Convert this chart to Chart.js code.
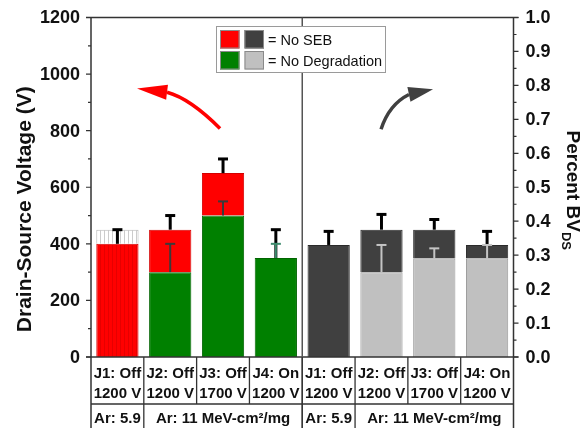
<!DOCTYPE html>
<html><head><meta charset="utf-8">
<script src="https://cdn.jsdelivr.net/npm/chart.js@4.4.0/dist/chart.umd.min.js"></script>
<style>html,body{margin:0;padding:0;background:#fff;}#wrap{width:585px;height:428px;position:relative;}</style>
</head><body><div id="wrap"><canvas id="c" width="585" height="428"></canvas></div>
<script>
// ---------- data ----------
const categories = ['J1: Off','J2: Off','J3: Off','J4: On','J1: Off','J2: Off','J3: Off','J4: On'];
const ratings = ['1200 V','1200 V','1700 V','1200 V','1200 V','1200 V','1700 V','1200 V'];
const ionGroups = ['Ar: 5.9','Ar: 11 MeV-cm²/mg','Ar: 5.9','Ar: 11 MeV-cm²/mg'];
const ionGroupSpans = [1,3,1,3];
// left panel: drain-source voltage (V)
const voltNoDegradation = [null,300,500,350];
const voltNoSEB = [400,450,650,350];
const voltUncertainTop = [450,null,null,null];
const voltErrTop = [450,500,700,450];
const voltDegErrTop = [null,400,550,400];
// right panel: fraction of rated BVds
const fracNoDegradation = [null,0.25,0.29,0.29];
const fracNoSEB = [0.33,0.375,0.375,0.33];
const fracErrTop = [0.37,0.42,0.405,0.37];
const fracDegErrTop = [null,0.33,0.32,0.33];
const leftTicks = [0,200,400,600,800,1000,1200];
const rightTicks = [0,0.1,0.2,0.3,0.4,0.5,0.6,0.7,0.8,0.9,1.0];
const legendLabels = ['= No SEB','= No Degradation'];

// ---------- helpers ----------
const FONT = '"Liberation Sans", Arial, sans-serif';
function pattern(bg, line, step){
  const c = document.createElement('canvas'); c.width = step; c.height = 8;
  const g = c.getContext('2d'); g.fillStyle = bg; g.fillRect(0,0,step,8);
  g.fillStyle = line; g.fillRect(0,0,1,8);
  return document.getElementById('c').getContext('2d').createPattern(c,'repeat');
}
const redStripe = pattern('#ff0000','#e60000',4);
const hatch = pattern('#ffffff','#cccccc',4);

const n = categories.length, half = n/2;
const leftIdx = i => i < half ? i : -1;
const rightIdx = i => i >= half ? i - half : -1;

const dsGreen = categories.map((_,i)=>{const k=leftIdx(i); return k>=0 && voltNoDegradation[k]!=null ? [0,voltNoDegradation[k]] : null;});
const dsRed = categories.map((_,i)=>{const k=leftIdx(i); if(k<0) return null; const b=voltNoDegradation[k]||0; return voltNoSEB[k]>b ? [b,voltNoSEB[k]] : null;});
const dsHatch = categories.map((_,i)=>{const k=leftIdx(i); return k>=0 && voltUncertainTop[k]!=null ? [voltNoSEB[k],voltUncertainTop[k]] : null;});
const dsLight = categories.map((_,i)=>{const k=rightIdx(i); return k>=0 && fracNoDegradation[k]!=null ? [0,fracNoDegradation[k]] : null;});
const dsDark = categories.map((_,i)=>{const k=rightIdx(i); if(k<0) return null; const b=fracNoDegradation[k]||0; return fracNoSEB[k]>b ? [b,fracNoSEB[k]] : null;});

const common = {grouped:false, categoryPercentage:1, barPercentage:0.8, borderWidth:1, borderSkipped:'start'};

function errBar(ctx, x, y0, y1, color, lw, capW){
  ctx.save(); ctx.strokeStyle = color; ctx.lineWidth = lw;
  ctx.beginPath(); ctx.moveTo(x,y0); ctx.lineTo(x,y1); ctx.stroke();
  ctx.beginPath(); ctx.moveTo(x-capW/2,y1); ctx.lineTo(x+capW/2,y1); ctx.stroke();
  ctx.restore();
}

const deco = {
  id:'deco',
  afterDatasetsDraw(chart){
    const {ctx, scales:{x,y,y2}} = chart;
    for(let k=0;k<half;k++){
      const xp = x.getPixelForValue(k);
      errBar(ctx, xp, y.getPixelForValue(voltNoSEB[k]), y.getPixelForValue(voltErrTop[k]), '#000', 3, 10);
      if(voltDegErrTop[k]!=null){
        errBar(ctx, xp, y.getPixelForValue(voltNoDegradation[k]), y.getPixelForValue(voltDegErrTop[k]), k===3?'#3b8a6c':'#3a3a3a', 2, 10);
      }
      const xr = x.getPixelForValue(k+half);
      errBar(ctx, xr, y2.getPixelForValue(fracNoSEB[k]), y2.getPixelForValue(fracErrTop[k]), '#000', 3, 10);
      if(fracDegErrTop[k]!=null){
        errBar(ctx, xr, y2.getPixelForValue(fracNoDegradation[k]), y2.getPixelForValue(fracDegErrTop[k]), '#c4c4c4', 2, 10);
      }
    }
  },
  afterDraw(chart){
    const {ctx, chartArea:ca, scales:{x,y,y2}} = chart;
    const H = chart.height;
    ctx.save();
    ctx.strokeStyle = '#333'; ctx.lineWidth = 1.5;
    // frame
    ctx.beginPath();
    ctx.moveTo(ca.left-5, ca.top); ctx.lineTo(ca.right+5, ca.top);
    ctx.moveTo(ca.left-5, ca.bottom); ctx.lineTo(ca.right+5, ca.bottom);
    ctx.moveTo(ca.left, ca.top); ctx.lineTo(ca.left, H);
    ctx.moveTo(ca.right, ca.top); ctx.lineTo(ca.right, H);
    ctx.stroke();
    // divider
    const xd = x.getPixelForValue(half-0.5);
    ctx.strokeStyle = '#555';
    ctx.beginPath(); ctx.moveTo(xd, ca.top); ctx.lineTo(xd, H); ctx.stroke();
    // ticks
    ctx.strokeStyle = '#333'; ctx.lineWidth = 1.2;
    ctx.beginPath();
    for(let v=0; v<=1200; v+=100){
      const yp = y.getPixelForValue(v), L = (v%200===0)?5:3;
      ctx.moveTo(ca.left-L, yp); ctx.lineTo(ca.left, yp);
    }
    for(let t=0; t<=20; t++){
      const yp = y2.getPixelForValue(t/20), L = (t%2===0)?5:3;
      ctx.moveTo(ca.right, yp); ctx.lineTo(ca.right+L, yp);
    }
    ctx.stroke();
    // tick labels
    ctx.fillStyle = '#111'; ctx.font = 'bold 18px '+FONT; ctx.textBaseline = 'middle';
    ctx.textAlign = 'right';
    leftTicks.forEach(v=>ctx.fillText(String(v), ca.left-11, y.getPixelForValue(v)+1));
    ctx.textAlign = 'left';
    rightTicks.forEach(v=>ctx.fillText(v.toFixed(1), ca.right+12, y2.getPixelForValue(v)+1));
    // titles
    ctx.save();
    ctx.font = 'bold 21px '+FONT; ctx.textAlign='center'; ctx.textBaseline='alphabetic';
    ctx.translate(30.5, (ca.top+ca.bottom)/2+22); ctx.rotate(-Math.PI/2);
    ctx.fillText('Drain-Source Voltage (V)', 0, 0);
    ctx.restore();
    ctx.save();
    ctx.translate(567, (ca.top+ca.bottom)/2+3); ctx.rotate(Math.PI/2);
    ctx.textBaseline='alphabetic'; ctx.textAlign='left';
    ctx.font = 'bold 19px '+FONT; const w1 = ctx.measureText('Percent BV').width;
    ctx.font = 'bold 13px '+FONT; const w2 = ctx.measureText('DS').width;
    ctx.font = 'bold 19px '+FONT; ctx.fillText('Percent BV', -(w1+w2)/2, 0);
    ctx.font = 'bold 13px '+FONT; ctx.fillText('DS', -(w1+w2)/2 + w1, 5);
    ctx.restore();
    // table
    const rowLine = ca.bottom + 47;
    ctx.strokeStyle = '#333'; ctx.lineWidth = 1.3;
    ctx.beginPath();
    ctx.moveTo(ca.left, rowLine); ctx.lineTo(ca.right, rowLine);
    for(let i=0;i<n-1;i++){ const xs = x.getPixelForValue(i+0.5); ctx.moveTo(xs, ca.bottom); ctx.lineTo(xs, rowLine); }
    let acc = 0;
    ionGroupSpans.forEach(s=>{ acc += s; if(acc<n){ const xs = x.getPixelForValue(acc-0.5); ctx.moveTo(xs,rowLine); ctx.lineTo(xs,H);} });
    ctx.stroke();
    ctx.fillStyle = '#111'; ctx.font = 'bold 15px '+FONT; ctx.textAlign='center'; ctx.textBaseline='alphabetic';
    for(let i=0;i<n;i++){
      const xc = x.getPixelForValue(i);
      ctx.fillText(categories[i], xc, ca.bottom+21);
      ctx.fillText(ratings[i], xc, ca.bottom+41);
    }
    acc = 0;
    ionGroups.forEach((g,j)=>{
      const xc = x.getPixelForValue(acc + (ionGroupSpans[j]-1)/2);
      ctx.fillText(g, xc, rowLine+19);
      acc += ionGroupSpans[j];
    });
    // legend
    const lx = ca.left+125, ly = ca.top+8.5;
    ctx.fillStyle = '#fff'; ctx.fillRect(lx, ly, 169, 46);
    ctx.strokeStyle = '#9a9a9a'; ctx.lineWidth = 1; ctx.strokeRect(lx+0.5, ly+0.5, 169, 46);
    const sw = [['#ff0000','#404040'],['#008000','#c0c0c0']];
    sw.forEach((row,r)=>{
      row.forEach((c,cI)=>{
        const sx = lx+4+cI*24.5, sy = ly+4+r*21;
        ctx.fillStyle = c; ctx.fillRect(sx, sy, 19.5, 18.5);
        ctx.strokeStyle = '#8a8a8a'; ctx.strokeRect(sx+0.5, sy+0.5, 18.5, 17.5);
      });
      ctx.fillStyle = '#111'; ctx.font = '14.5px '+FONT; ctx.textAlign='left';
      ctx.fillText(legendLabels[r], lx+52, ly+19+r*21);
    });
    // arrows
    const P = (i,v) => [x.getPixelForValue(i), y.getPixelForValue(v)];
    function arrow(color, a, c, b, tip){
      const A=P(...a), C=P(...c), B=P(...b), T=P(...tip);
      ctx.strokeStyle = color; ctx.fillStyle = color; ctx.lineWidth = 3.5; ctx.lineCap='butt';
      ctx.beginPath(); ctx.moveTo(...A); ctx.quadraticCurveTo(...C, ...B); ctx.stroke();
      const dx = T[0]-B[0], dy = T[1]-B[1], L = Math.hypot(dx,dy), nx = -dy/L*7.5, ny = dx/L*7.5;
      ctx.beginPath(); ctx.moveTo(...T); ctx.lineTo(B[0]+nx, B[1]+ny); ctx.lineTo(B[0]-nx, B[1]-ny); ctx.closePath(); ctx.fill();
    }
    arrow('#ff0000', [1.943,808], [1.375,914], [0.94,936], [0.371,949]);
    arrow('#404040', [4.992,805], [5.144,893], [5.52,928], [5.977,946]);
    ctx.restore();
  }
};

new Chart(document.getElementById('c'), {
  type:'bar',
  data:{
    labels: categories,
    datasets:[
      {...common, label:'No SEB (uncertain)', data: dsHatch, yAxisID:'y', backgroundColor: hatch, borderColor:'#b5b5b5'},
      {...common, label:'No SEB', data: dsRed, yAxisID:'y', backgroundColor: c=> c.dataIndex===0 ? redStripe : '#ff0000', borderColor:'#d40000'},
      {...common, label:'No Degradation', data: dsGreen, yAxisID:'y', backgroundColor:'#008000', borderColor:'#006400'},
      {...common, label:'No SEB (BVds)', data: dsDark, yAxisID:'y2', backgroundColor:'#404040', borderColor:'#2a2a2a'},
      {...common, label:'No Degradation (BVds)', data: dsLight, yAxisID:'y2', backgroundColor:'#c0c0c0', borderColor:'#9a9a9a'}
    ]
  },
  options:{
    responsive:false, animation:false,
    layout:{padding:{left:91, right:71.5, top:17.5, bottom:71}},
    plugins:{legend:{display:false}, tooltip:{enabled:false}},
    scales:{
      x:{display:false, offset:true},
      y:{display:false, min:0, max:1200, position:'left'},
      y2:{display:false, min:0, max:1, position:'right'}
    }
  },
  plugins:[deco]
});
</script></body></html>
